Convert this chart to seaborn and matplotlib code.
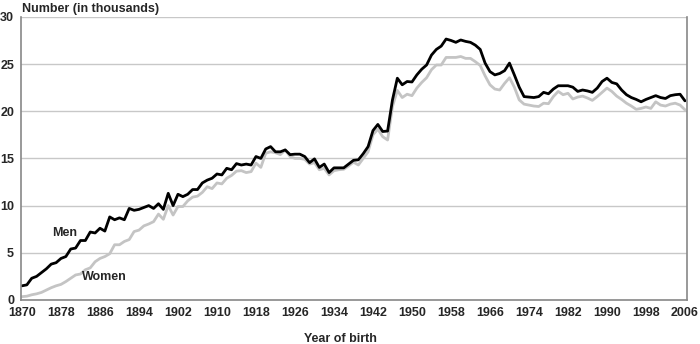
import numpy as np
import pandas as pd
import matplotlib
matplotlib.use('Agg')
import matplotlib.pyplot as plt
import seaborn as sns

years = list(range(1870, 2007))

men = [1.5, 1.6, 2.3, 2.5, 2.9, 3.3, 3.8, 3.95, 4.4, 4.6,
       5.4, 5.5, 6.3, 6.3, 7.2, 7.1, 7.6, 7.3, 8.8, 8.5,
       8.7, 8.5, 9.7, 9.5, 9.6, 9.8, 10.0, 9.7, 10.2, 9.6,
       11.3, 10.0, 11.2, 10.95, 11.2, 11.7, 11.7, 12.4, 12.7, 12.9,
       13.35, 13.25, 13.95, 13.8, 14.45, 14.3, 14.4, 14.3, 15.2, 15.0,
       16.0, 16.25, 15.7, 15.7, 15.9, 15.4, 15.45, 15.45, 15.2, 14.55,
       14.95, 14.05, 14.4, 13.5, 14.0, 14.0, 14.0, 14.4, 14.8, 14.85,
       15.5, 16.25, 17.95, 18.6, 17.85, 17.9, 21.2, 23.5, 22.8, 23.15,
       23.1, 23.85, 24.45, 24.9, 25.95, 26.55, 26.9, 27.65, 27.5, 27.3,
       27.55, 27.4, 27.3, 27.0, 26.55, 25.1, 24.2, 23.85, 24.0, 24.3,
       25.1, 23.85, 22.55, 21.55, 21.5, 21.45, 21.55, 22.0, 21.85, 22.35,
       22.7, 22.7, 22.7, 22.55, 22.1, 22.25, 22.15, 22.0, 22.45, 23.15,
       23.5, 23.05, 22.9, 22.25, 21.75, 21.45, 21.25, 21.0, 21.25, 21.45,
       21.65, 21.45, 21.35, 21.65, 21.75, 21.8, 21.1]

women = [0.35, 0.4, 0.55, 0.65, 0.8, 1.05, 1.3, 1.5, 1.65, 1.95,
         2.3, 2.65, 2.75, 3.2, 3.4, 4.05, 4.4, 4.6, 4.9, 5.85,
         5.85, 6.2, 6.4, 7.25, 7.4, 7.85, 8.05, 8.3, 9.1, 8.55,
         10.0, 9.0, 9.9, 9.9, 10.5, 10.9, 11.0, 11.4, 12.0, 11.8,
         12.4, 12.3, 12.9, 13.2, 13.65, 13.7, 13.5, 13.6, 14.5, 14.05,
         15.55, 15.7, 15.6, 15.4, 15.9, 15.2, 15.0, 15.0, 14.9, 14.4,
         14.55, 13.8, 13.95, 13.25, 13.7, 13.8, 13.85, 14.2, 14.6, 14.3,
         15.0, 15.7, 17.5, 18.1, 17.3, 16.95, 20.5, 22.2, 21.45, 21.8,
         21.65, 22.45, 23.05, 23.55, 24.4, 24.9, 24.9, 25.7, 25.7, 25.7,
         25.8, 25.6, 25.6, 25.25, 24.85, 23.75, 22.8, 22.35, 22.25, 22.95,
         23.55, 22.55, 21.2, 20.75, 20.65, 20.55, 20.5, 20.85, 20.8, 21.55,
         22.1, 21.75, 21.9, 21.3, 21.5, 21.6, 21.4, 21.15, 21.55, 22.0,
         22.45, 22.1, 21.6, 21.25, 20.85, 20.55, 20.2, 20.3, 20.45, 20.3,
         21.0, 20.65, 20.55, 20.75, 20.85, 20.65, 20.15]

xticks = list(range(1870, 2007, 8))
yticks = [0, 5, 10, 15, 20, 25, 30]

df = pd.DataFrame({
    'year': years * 2,
    'value': women + men,
    'sex': ['Women'] * len(years) + ['Men'] * len(years),
})

sns.set_style('white')
plt.rcParams['font.family'] = ['Liberation Sans', 'DejaVu Sans']
plt.rcParams['font.weight'] = 'bold'

fig = plt.figure(figsize=(7, 3.44), dpi=100)
ax = fig.add_axes([0.03, 0.128, 0.952, 0.823])

sns.lineplot(data=df, x='year', y='value', hue='sex',
             palette={'Women': '#c4c4c4', 'Men': '#000000'},
             linewidth=2.0, legend=False, ax=ax)

ax.set_xlim(1869.8, 2006.5)
ax.set_ylim(0, 30)
ax.set_xticks(xticks)
ax.set_yticks(yticks)
ax.yaxis.grid(True, color='#c8c8c8', linewidth=1.0)
ax.set_axisbelow(True)

for side in ['left', 'bottom', 'right']:
    ax.spines[side].set_color('#888888')
    ax.spines[side].set_linewidth(1.2)
ax.spines['top'].set_visible(False)

ax.tick_params(axis='x', length=3, width=1, color='#888888', pad=2, labelsize=9)
ax.tick_params(axis='y', length=0, pad=5, labelsize=9)
for lab in ax.get_xticklabels() + ax.get_yticklabels():
    lab.set_fontweight('bold')

ax.set_xlabel('Year of birth', fontsize=9, fontweight='bold')
ax.xaxis.set_label_coords(0.479, -0.115)
ax.set_ylabel('')
fig.text(0.031, 0.975, 'Number (in thousands)', fontsize=9, fontweight='bold',
         ha='left', va='center')

ax.text(1878.7, 7.1, 'Men', fontsize=9, fontweight='bold', ha='center', va='center')
ax.text(1886.9, 2.45, 'Women', fontsize=9, fontweight='bold', ha='center', va='center')

fig.savefig('out.png', dpi=100)
